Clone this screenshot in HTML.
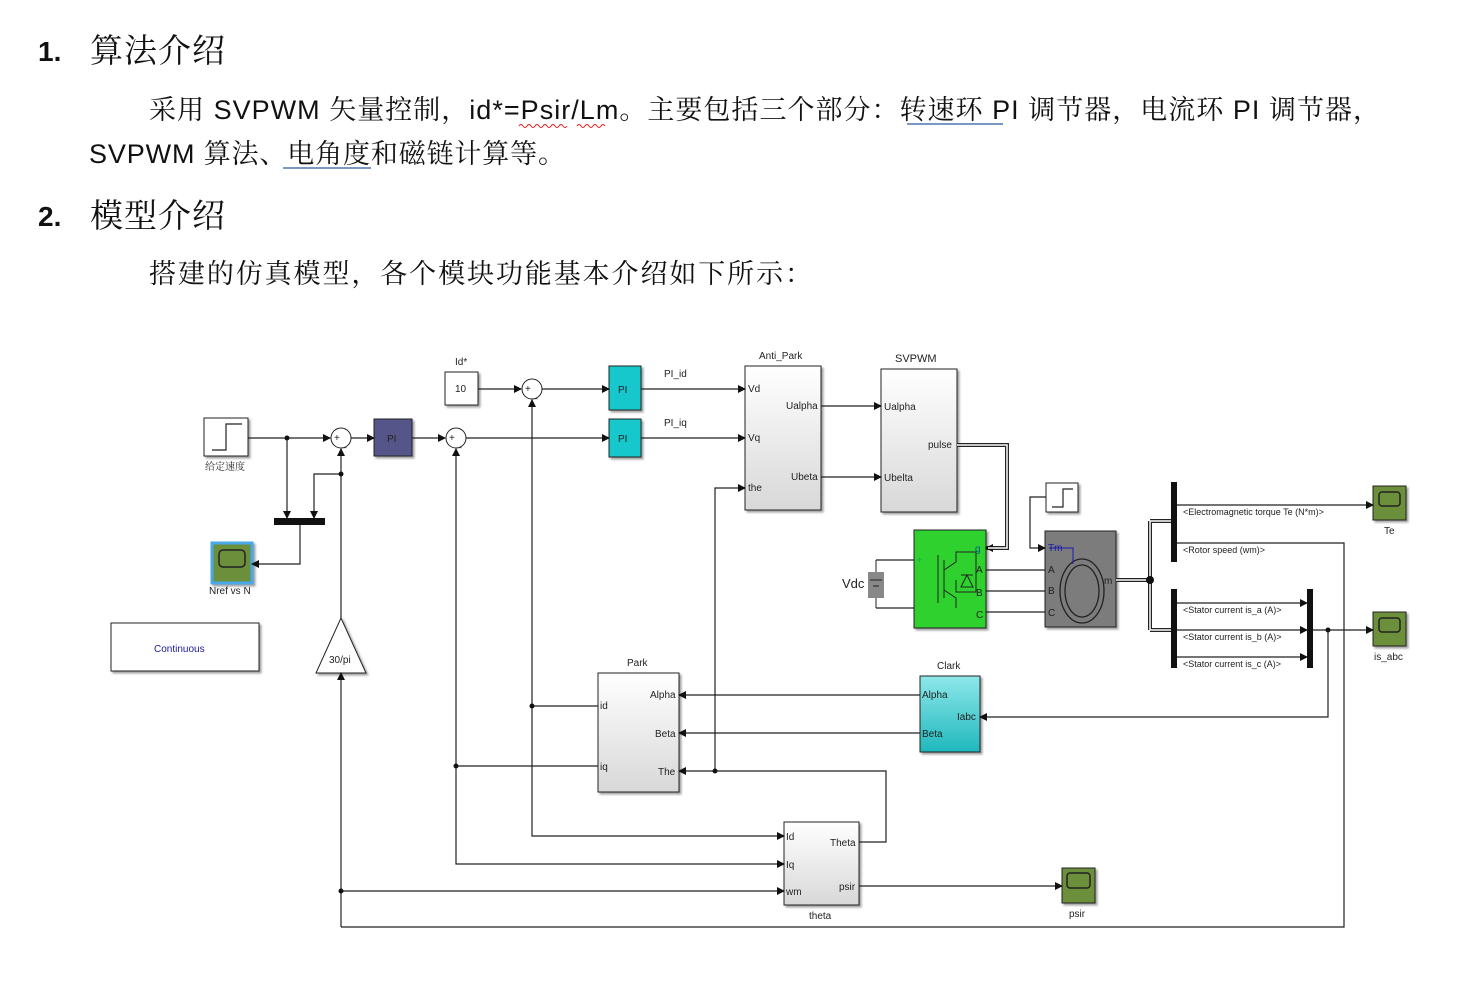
<!DOCTYPE html>
<html><head><meta charset="utf-8">
<style>
html,body{margin:0;padding:0;background:#fff;}
svg{display:block;}
.t{font-family:"Liberation Sans","Noto Serif CJK SC",serif;fill:#111;}
.s{font-family:"Liberation Sans",sans-serif;font-size:10px;fill:#222;}
.w{stroke:#222;stroke-width:1.2;fill:none;}
</style></head><body>
<svg width="1478" height="1002" viewBox="0 0 1478 1002" xmlns="http://www.w3.org/2000/svg">
<defs>
<marker id="a" markerWidth="8" markerHeight="8" refX="7" refY="4" orient="auto" markerUnits="userSpaceOnUse"><path d="M0,0 L8,4 L0,8z" fill="#111"/></marker>
<linearGradient id="g" x1="0" y1="0" x2="0" y2="1"><stop offset="0" stop-color="#fff"/><stop offset="1" stop-color="#d8d8d8"/></linearGradient>
<linearGradient id="c" x1="0" y1="0" x2="0" y2="1"><stop offset="0" stop-color="#8ee8ea"/><stop offset="1" stop-color="#1fb8bd"/></linearGradient>
<filter id="sh"><feDropShadow dx="2" dy="2" stdDeviation="1" flood-color="#777" flood-opacity="0.7"/></filter>
</defs>
<!-- Text -->
<text class="t" x="38" y="61" font-size="28" font-weight="bold" font-family="Liberation Sans">1.</text>
<text class="t" x="90" y="62" font-size="33" textLength="135">算法介绍</text>
<text class="t" x="149" y="119" font-size="27" textLength="1231">采用 SVPWM 矢量控制，id*=Psir/Lm。主要包括三个部分：转速环 PI 调节器，电流环 PI 调节器，</text>
<path d="M519,126 q2,-3 4,0 q2,3 4,0 q2,-3 4,0 q2,3 4,0 q2,-3 4,0 q2,3 4,0 q2,-3 4,0 q2,3 4,0 q2,-3 4,0 q2,3 4,0 q2,-3 4,0 q2,3 4,0 M577,126 q2,-3 4,0 q2,3 4,0 q2,-3 4,0 q2,3 4,0 q2,-3 4,0 q2,3 4,0 q2,-3 4,0" stroke="#d22" fill="none" stroke-width="1"/>
<line x1="907" y1="124" x2="1003" y2="124" stroke="#2c5aa0" stroke-width="1.2"/>
<text class="t" x="89" y="163" font-size="27" textLength="476">SVPWM 算法、电角度和磁链计算等。</text>
<line x1="283" y1="168" x2="371" y2="168" stroke="#2c5aa0" stroke-width="1.2"/>
<text class="t" x="38" y="226" font-size="28" font-weight="bold" font-family="Liberation Sans">2.</text>
<text class="t" x="90" y="227" font-size="33" textLength="135">模型介绍</text>
<text class="t" x="149" y="283" font-size="27" textLength="663">搭建的仿真模型，各个模块功能基本介绍如下所示：</text>

<!-- Blocks -->
<g filter="url(#sh)">
<rect x="204" y="418" width="44" height="38" fill="#fff" stroke="#222"/>
<rect x="374" y="419" width="38" height="37" fill="#55558a" stroke="#222"/>
<rect x="445" y="372" width="33" height="33" fill="#fff" stroke="#222"/>
<rect x="609" y="366" width="32" height="44" fill="#12c8cc" stroke="#222"/>
<rect x="609" y="419" width="32" height="38" fill="#12c8cc" stroke="#222"/>
<rect x="745" y="366" width="76" height="144" fill="url(#g)" stroke="#222"/>
<rect x="881" y="369" width="76" height="143" fill="url(#g)" stroke="#222"/>
<rect x="212" y="543" width="40" height="40" fill="#6c8f3a" stroke="#4aa8e8" stroke-width="3"/>
<rect x="111" y="623" width="148" height="48" fill="#fff" stroke="#222"/>
<path d="M341,618 L366,673 L316,673z" fill="#fff" stroke="#222"/>
<rect x="598" y="673" width="81" height="119" fill="url(#g)" stroke="#222"/>
<rect x="920" y="676" width="60" height="76" fill="url(#c)" stroke="#222"/>
<rect x="784" y="822" width="75" height="83" fill="url(#g)" stroke="#222"/>
<rect x="1062" y="868" width="33" height="35" fill="#6c8f3a" stroke="#222"/>
<rect x="1046" y="483" width="32" height="29" fill="#fff" stroke="#222"/>
<rect x="914" y="530" width="72" height="98" fill="#2ed12e" stroke="#222"/>
<rect x="1045" y="531" width="71" height="96" fill="#7c7c7c" stroke="#222"/>
<rect x="1373" y="486" width="33" height="34" fill="#6c8f3a" stroke="#222"/>
<rect x="1373" y="612" width="33" height="34" fill="#6c8f3a" stroke="#222"/>
</g>
<rect x="274" y="518" width="51" height="7" fill="#111"/>
<rect x="1171" y="482" width="6" height="80" fill="#111"/>
<rect x="1171" y="589" width="6" height="79" fill="#111"/>
<rect x="1307" y="589" width="6" height="79" fill="#111"/>
<!-- scope screens -->
<rect x="219" y="550" width="26" height="17" rx="4" fill="none" stroke="#222" stroke-width="1.5"/>
<rect x="1379" y="492" width="21" height="14" rx="3" fill="none" stroke="#222" stroke-width="1.5"/>
<rect x="1379" y="618" width="21" height="14" rx="3" fill="none" stroke="#222" stroke-width="1.5"/>
<rect x="1067" y="873" width="23" height="15" rx="3" fill="none" stroke="#222" stroke-width="1.5"/>
<!-- step glyphs -->
<path d="M212,450 h14 v-26 h16" class="w"/>
<path d="M1052,507 h11 v-18 h10" class="w"/>
<!-- sum circles -->
<circle cx="341" cy="438" r="10" fill="#fff" stroke="#222"/>
<circle cx="456" cy="438" r="10" fill="#fff" stroke="#222"/>
<circle cx="532" cy="389" r="10" fill="#fff" stroke="#222"/>
<text class="s" x="334" y="441" font-size="8">+</text><text class="s" x="341" y="446" font-size="8">_</text>
<text class="s" x="449" y="441" font-size="8">+</text><text class="s" x="456" y="446" font-size="8">_</text>
<text class="s" x="525" y="392" font-size="8">+</text><text class="s" x="532" y="397" font-size="8">_</text>
<!-- motor -->
<ellipse cx="1082" cy="591" rx="22" ry="32" fill="none" stroke="#222" stroke-width="1.3"/>
<ellipse cx="1082" cy="591" rx="17" ry="26" fill="none" stroke="#222" stroke-width="1.3"/>
<path d="M1049,548 h24 v16" stroke="#1a1ab0" fill="none"/>
<!-- inverter symbol -->
<path d="M938,555 v48 M944,560 v38 M944,570 l12,-8 v-10 h20 v40 h-20 v-12 M944,590 l12,8 v10 M967,575 l-6,12 h12 z M961,575 h12" stroke="#222" fill="none"/>
<!-- battery -->
<rect x="868" y="572" width="16" height="26" fill="#888"/>
<path d="M876,560 v12 M876,598 v10 M870,580 h12 M873,586 h6" stroke="#222"/>
<!-- labels -->
<g class="s">
<text x="205" y="470" font-family="Noto Serif CJK SC" font-size="10">给定速度</text>
<text x="387" y="442">PI</text>
<text x="455" y="365">Id*</text><text x="455" y="392">10</text>
<text x="618" y="393">PI</text><text x="618" y="442">PI</text>
<text x="664" y="377">PI_id</text><text x="664" y="426">PI_iq</text>
<text x="759" y="359">Anti_Park</text>
<text x="748" y="392">Vd</text><text x="748" y="441">Vq</text><text x="748" y="491">the</text>
<text x="786" y="409">Ualpha</text><text x="791" y="480">Ubeta</text>
<text x="895" y="362" font-size="11">SVPWM</text>
<text x="884" y="410">Ualpha</text><text x="884" y="481">Ubelta</text><text x="928" y="448">pulse</text>
<text x="209" y="594">Nref vs N</text>
<text x="154" y="652" fill="#1a1a9a">Continuous</text>
<text x="329" y="663">30/pi</text>
<text x="627" y="666">Park</text>
<text x="600" y="709">id</text><text x="600" y="770">iq</text>
<text x="650" y="698">Alpha</text><text x="655" y="737">Beta</text><text x="658" y="775">The</text>
<text x="937" y="669">Clark</text>
<text x="922" y="698">Alpha</text><text x="922" y="737">Beta</text><text x="957" y="720">Iabc</text>
<text x="786" y="840">Id</text><text x="786" y="868">Iq</text><text x="786" y="895">wm</text>
<text x="830" y="846">Theta</text><text x="839" y="890">psir</text>
<text x="809" y="919">theta</text>
<text x="1069" y="917">psir</text>
<text x="842" y="588" font-size="13">Vdc</text>
<text x="917" y="563" fill="#0a5" font-size="9">+</text>
<text x="975" y="552" fill="#005a80">g</text>
<text x="976" y="573">A</text><text x="976" y="596">B</text><text x="976" y="618">C</text>
<text x="1048" y="551" fill="#1a1ab0">Tm</text>
<text x="1048" y="573">A</text><text x="1048" y="594">B</text><text x="1048" y="616">C</text>
<text x="1104" y="584">m</text>
<text x="1183" y="515" font-size="9">&lt;Electromagnetic torque Te (N*m)&gt;</text>
<text x="1183" y="553" font-size="9">&lt;Rotor speed (wm)&gt;</text>
<text x="1183" y="613" font-size="9">&lt;Stator current is_a (A)&gt;</text>
<text x="1183" y="640" font-size="9">&lt;Stator current is_b (A)&gt;</text>
<text x="1183" y="667" font-size="9">&lt;Stator current is_c (A)&gt;</text>
<text x="1384" y="534">Te</text>
<text x="1374" y="660">is_abc</text>
</g>
<!-- wires -->
<g class="w">
<path d="M248,438 H330" marker-end="url(#a)"/>
<path d="M287,438 V518" marker-end="url(#a)"/>
<path d="M351,438 H374" marker-end="url(#a)"/>
<path d="M412,438 H445" marker-end="url(#a)"/>
<path d="M466,438 H609" marker-end="url(#a)"/>
<path d="M478,389 H521" marker-end="url(#a)"/>
<path d="M542,389 H609" marker-end="url(#a)"/>
<path d="M641,389 H745" marker-end="url(#a)"/>
<path d="M641,438 H745" marker-end="url(#a)"/>
<path d="M821,406 H881" marker-end="url(#a)"/>
<path d="M821,477 H881" marker-end="url(#a)"/>
<path d="M300,525 V564 H252" marker-end="url(#a)"/>
<path d="M341,474 H314 V518" marker-end="url(#a)"/>
<path d="M341,618 V449" marker-end="url(#a)"/>
<path d="M341,927 V673" marker-end="url(#a)"/>
<path d="M341,927 H1344 V543 H1177"/>
<path d="M341,891 H784" marker-end="url(#a)"/>
<path d="M598,766 H456 V864 H784" marker-end="url(#a)"/>
<path d="M456,766 V449" marker-end="url(#a)"/>
<path d="M598,706 H532 V836 H784" marker-end="url(#a)"/>
<path d="M532,706 V400" marker-end="url(#a)"/>
<path d="M859,842 H886 V771 H679" marker-end="url(#a)"/>
<path d="M715,771 V488 H745" marker-end="url(#a)"/>
<path d="M920,695 H679" marker-end="url(#a)"/>
<path d="M920,733 H679" marker-end="url(#a)"/>
<path d="M1328,630 V717 H980" marker-end="url(#a)"/>
<path d="M859,886 H1062" marker-end="url(#a)"/>
<path d="M1313,630 H1373" marker-end="url(#a)"/>
<path d="M1177,505 H1373" marker-end="url(#a)"/>
<path d="M1177,603 H1307" marker-end="url(#a)"/>
<path d="M1177,630 H1307" marker-end="url(#a)"/>
<path d="M1177,657 H1307" marker-end="url(#a)"/>
<path d="M1046,497 H1030 V548 H1045" marker-end="url(#a)"/>
<path d="M986,570 H1045 M986,591 H1045 M986,612 H1045"/>
<path d="M876,560 H914 M876,608 H914"/>
<path d="M957,445 H1007 V548 H986" stroke-width="4" marker-end="url(#a)"/>
<path d="M957,445 H1007 V548 H988" stroke="#fff" stroke-width="1.5"/>
<path d="M1116,580 H1150 M1150,521 V630 M1150,521 H1171 M1150,630 H1171" stroke-width="4"/>
<path d="M1116,580 H1150 M1150,521 V630 M1150,521 H1171 M1150,630 H1171" stroke="#fff" stroke-width="1.5"/>
</g>
<g fill="#111">
<circle cx="287" cy="438" r="2.5"/><circle cx="341" cy="474" r="2.5"/><circle cx="341" cy="891" r="2.5"/>
<circle cx="456" cy="766" r="2.5"/><circle cx="532" cy="706" r="2.5"/><circle cx="715" cy="771" r="2.5"/>
<circle cx="1328" cy="630" r="2.5"/><circle cx="1150" cy="580" r="4"/>
</g>
</svg>
</body></html>
